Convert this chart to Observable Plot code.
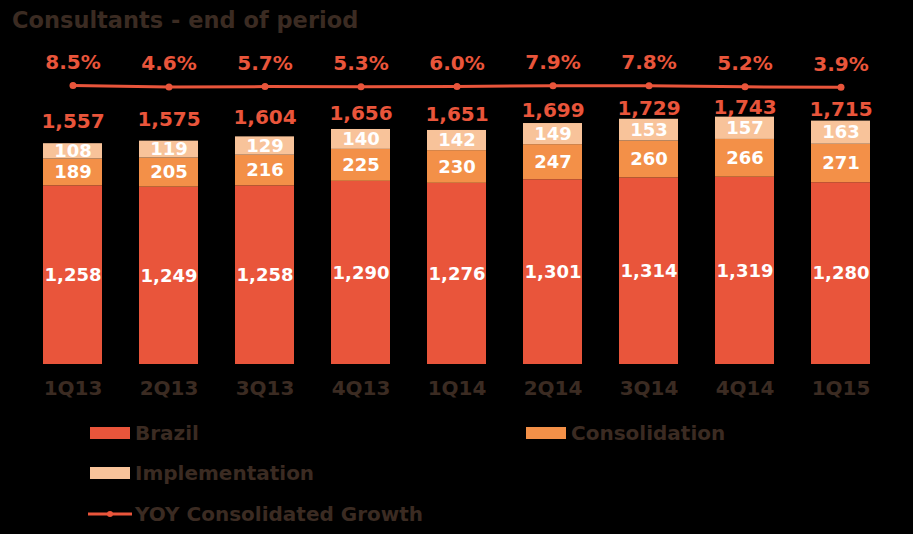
<!DOCTYPE html>
<html><head><meta charset="utf-8">
<script src="https://cdn.jsdelivr.net/npm/d3@7"></script>
<script src="https://cdn.jsdelivr.net/npm/@observablehq/plot@0.6"></script>
<style>
body{margin:0;background:#000;width:913px;height:534px;overflow:hidden;font-family:"DejaVu Sans",Verdana,sans-serif;font-weight:bold;position:relative}
#title{position:absolute;left:12px;top:6px;font-size:22.5px;color:#3b2b22;line-height:28px}
#chart{position:absolute;left:0;top:42px}
.leg{position:absolute;font-size:20px;color:#3b2b22;display:flex;align-items:center;height:24px;line-height:24px}
.sw{width:40px;height:12px;margin-right:5px}
</style></head>
<body>
<div id="title">Consultants - end of period</div>
<div id="chart"></div>
<div class="leg" style="left:90px;top:421px"><div class="sw" style="background:#e9553b"></div>Brazil</div>
<div class="leg" style="left:526px;top:421px"><div class="sw" style="background:#f39048"></div>Consolidation</div>
<div class="leg" style="left:90px;top:461px"><div class="sw" style="background:#f8c39a"></div>Implementation</div>
<div class="leg" style="left:88px;top:502px"><svg width="46" height="12" style="margin-right:1px"><line x1="0" y1="6" x2="44" y2="6" stroke="#e9553b" stroke-width="3"/><circle cx="22" cy="6" r="3" fill="#e9553b"/></svg>YOY Consolidated Growth</div>
<script>
const quarters = ["1Q13","2Q13","3Q13","4Q13","1Q14","2Q14","3Q14","4Q14","1Q15"];
const brazil = [1258,1249,1258,1290,1276,1301,1314,1319,1280];
const consolidation = [189,205,216,225,230,247,260,266,271];
const implementation = [108,119,129,140,142,149,153,157,163];
const totals = [1557,1575,1604,1656,1651,1699,1729,1743,1715];
const growth = [0.085,0.046,0.057,0.053,0.060,0.079,0.078,0.052,0.039];
const seriesNames = ["Brazil","Consolidation","Implementation"];
const seriesColors = ["#e9553b","#f39048","#f8c39a"];

const long = [];
quarters.forEach((q,i)=>{
  long.push({q, s:"Brazil", v:brazil[i]});
  long.push({q, s:"Consolidation", v:consolidation[i]});
  long.push({q, s:"Implementation", v:implementation[i]});
});
// total labels sit on a compressed secondary placement, as in the source chart
const tot = quarters.map((q,i)=>({q, v:totals[i], ly: 1712 + 0.53*(totals[i]-1557)}));
// growth line drawn on a secondary axis folded into the primary one
const gr = quarters.map((q,i)=>({q, g:growth[i], y:1940 + growth[i]*300}));
const red = "#e9553b";
const fmt = d3.format(",");
const pct = d3.format(".1%");

const chart = Plot.plot({
  width: 913, height: 368,
  marginLeft: 23, marginRight: 23, marginTop: 38, marginBottom: 46,
  style: {background: "transparent", fontFamily: "'DejaVu Sans', Verdana, sans-serif", fontWeight: "bold"},
  x: {domain: quarters, paddingInner: 0.386, paddingOuter: 0.2, label: null},
  y: {domain: [0, 2000], axis: null},
  color: {domain: seriesNames, range: seriesColors},
  marks: [
    Plot.barY(long, {x: "q", y: "v", fill: "s", order: seriesNames}),
    Plot.text(long, Plot.stackY({x: "q", y: "v", z: "s", order: seriesNames, text: d => fmt(d.v), fill: "white", fontSize: 18})),
    Plot.text(tot, {x: "q", y: "ly", text: d => fmt(d.v), fill: red, fontSize: 20}),
    Plot.line(gr, {x: "q", y: "y", stroke: red, strokeWidth: 3}),
    Plot.dot(gr, {x: "q", y: "y", fill: red, r: 3.5}),
    Plot.text(gr, {x: "q", y: "y", text: d => pct(d.g), fill: red, fontSize: 20, dy: -23}),
    Plot.axisX({tickSize: 0, tickPadding: 16, fontSize: 20, color: "#3b2b22", label: null})
  ]
});
document.getElementById("chart").appendChild(chart);
</script>
</body></html>
